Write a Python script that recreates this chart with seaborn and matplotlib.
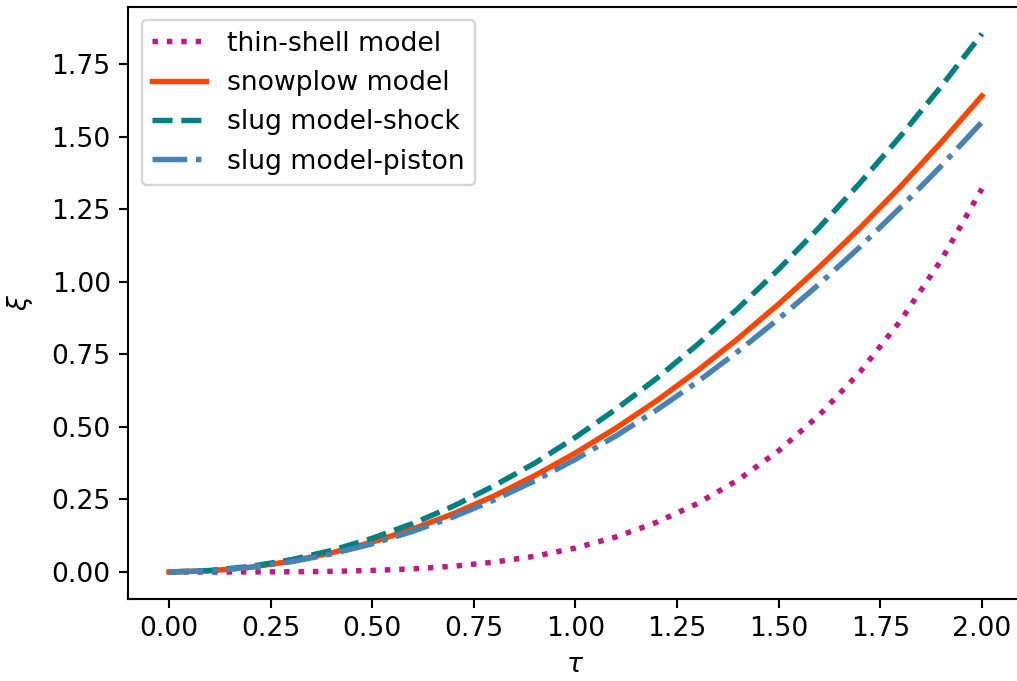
import numpy as np
import pandas as pd
import matplotlib
matplotlib.use("Agg")
import matplotlib.pyplot as plt
import seaborn as sns

# dimensionless time
tau = [0.0, 0.1, 0.2, 0.3, 0.4, 0.5, 0.6, 0.7, 0.8, 0.9, 1.0,
       1.1, 1.2, 1.3, 1.4, 1.5, 1.6, 1.7, 1.8, 1.9, 2.0]

# shell position for each model
thin_shell = [0.0, 0.0000, 0.0001, 0.0007, 0.0021, 0.0052, 0.0107, 0.0198,
              0.0338, 0.0541, 0.0825, 0.1208, 0.1711, 0.2356, 0.3169,
              0.4177, 0.5407, 0.6890, 0.8661, 1.0751, 1.3200]
snowplow = [0.0, 0.004, 0.016, 0.037, 0.066, 0.103, 0.148, 0.201, 0.262,
            0.332, 0.410, 0.496, 0.590, 0.693, 0.804, 0.923, 1.050, 1.185,
            1.328, 1.480, 1.640]
slug_shock = [0.0, 0.005, 0.019, 0.042, 0.074, 0.116, 0.167, 0.227, 0.297,
              0.375, 0.464, 0.561, 0.667, 0.783, 0.908, 1.043, 1.187, 1.340,
              1.502, 1.673, 1.854]
slug_piston = [0.0, 0.004, 0.016, 0.035, 0.062, 0.097, 0.140, 0.190, 0.248,
               0.314, 0.388, 0.469, 0.558, 0.655, 0.760, 0.872, 0.992, 1.120,
               1.256, 1.399, 1.550]

labels = ["thin-shell model", "snowplow model", "slug model-shock",
          "slug model-piston"]
colors = ["#C71585", "#FF4500", "#008080", "#4682B4"]
styles = [":", "-", "--", "-."]

plt.rcParams["font.family"] = ["DejaVu Sans"]
plt.rcParams["font.size"] = 11.3
plt.rcParams["axes.linewidth"] = 0.9
plt.rcParams["xtick.major.width"] = 0.9
plt.rcParams["ytick.major.width"] = 0.9
plt.rcParams["xtick.major.size"] = 3.9
plt.rcParams["ytick.major.size"] = 3.9

dpi = 170
fig = plt.figure(figsize=(1017 / dpi, 681 / dpi), dpi=dpi)
ax = fig.add_axes([0.1262, 0.1206, 0.8793, 0.8695])

for ys, lab, col, ls in zip([thin_shell, snowplow, slug_shock, slug_piston],
                            labels, colors, styles):
    df = pd.DataFrame({"tau": tau, "xi": ys})
    sns.lineplot(data=df, x="tau", y="xi", ax=ax, color=col, linestyle=ls,
                 linewidth=2.3, label=lab)

ax.set_xlim(-0.1, 2.1)
ax.set_ylim(-0.0927, 1.947)
ax.set_xticks([0.0, 0.25, 0.5, 0.75, 1.0, 1.25, 1.5, 1.75, 2.0])
ax.set_yticks([0.0, 0.25, 0.5, 0.75, 1.0, 1.25, 1.5, 1.75])
ax.xaxis.set_major_formatter(matplotlib.ticker.FormatStrFormatter("%.2f"))
ax.yaxis.set_major_formatter(matplotlib.ticker.FormatStrFormatter("%.2f"))
ax.set_xlabel(r"$\tau$")
ax.set_ylabel(r"$\xi$", labelpad=7)
ax.legend(loc="upper left")

fig.savefig("out.png", dpi=dpi)
